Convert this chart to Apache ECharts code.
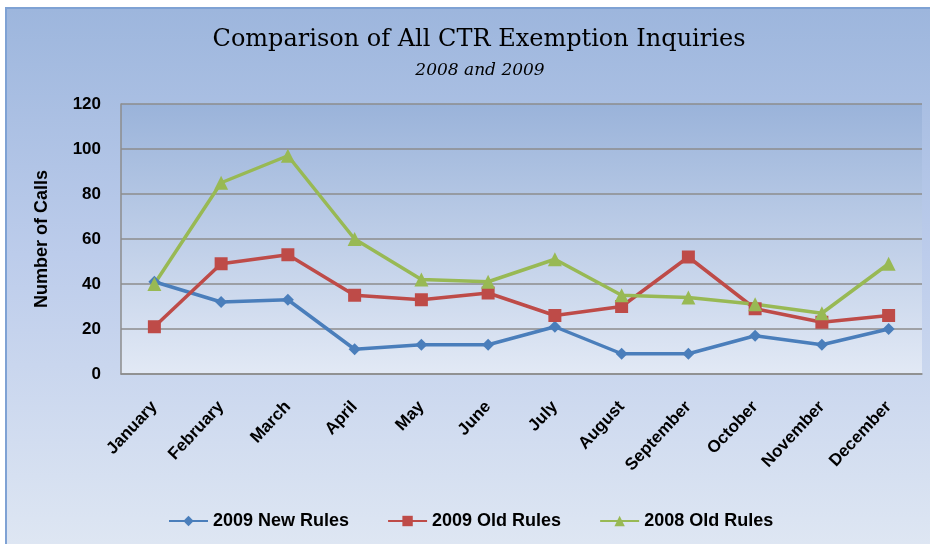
<!DOCTYPE html>
<html>
<head>
<meta charset="utf-8">
<script src="https://cdn.jsdelivr.net/npm/echarts@6/dist/echarts.min.js"></script>
<style>
  html, body { margin: 0; padding: 0; background: #fff; }
  #frame {
    position: absolute; left: 5px; top: 7px; width: 930px; height: 544px;
    border-left: 2px solid #7fa2d4; border-top: 2px solid #7fa2d4;
    background: linear-gradient(to bottom, #9db6dd 0%, #bccceb 45%, #dfe7f3 100%);
  }
  #chart { position: absolute; left: 0; top: 0; width: 930px; height: 544px; }
</style>
</head>
<body>
<div id="frame"></div>
<div id="chart"></div>
<script>
// 資料
const months = ["January", "February", "March", "April", "May", "June",
  "July", "August", "September", "October", "November", "December"];
const newRules2009 = [41, 32, 33, 11, 13, 13, 21, 9, 9, 17, 13, 20];
const oldRules2009 = [21, 49, 53, 35, 33, 36, 26, 30, 52, 29, 23, 26];
const oldRules2008 = [40, 85, 97, 60, 42, 41, 51, 35, 34, 31, 27, 49];
const yTicks = [0, 20, 40, 60, 80, 100, 120];

const chart = echarts.init(document.getElementById("chart"));

function lineSeries(name, data, color, symbol, size) {
  return {
    name: name,
    type: "line",
    data: data,
    symbol: symbol,
    symbolSize: size,
    lineStyle: { color: color, width: 3.5 },
    itemStyle: { color: color },
    z: 3
  };
}

const option = {
  animation: false,
  title: [
    {
      text: "Comparison of All CTR Exemption Inquiries",
      left: 474, top: 23, textAlign: "center",
      textStyle: { fontFamily: "DejaVu Serif", fontSize: 24, fontWeight: "normal", color: "#000" }
    },
    {
      text: "2008 and 2009",
      left: 475, top: 57, textAlign: "center",
      textStyle: { fontFamily: "DejaVu Serif", fontSize: 17, fontStyle: "italic", fontWeight: "normal", color: "#000" }
    }
  ],
  grid: {
    left: 121, right: 8, top: 104, bottom: 170,
    show: true,
    borderWidth: 0,
    backgroundColor: new echarts.graphic.LinearGradient(0, 0, 0, 1, [
      { offset: 0, color: "#9ab3da" },
      { offset: 1, color: "#e2e9f5" }
    ])
  },
  legend: {
    top: 507, left: 163,
    itemWidth: 39, itemHeight: 13, itemGap: 38,
    textStyle: { fontFamily: "Liberation Sans", fontSize: 18, fontWeight: "bold", color: "#000" },
    data: ["2009 New Rules", "2009 Old Rules", "2008 Old Rules"]
  },
  xAxis: {
    type: "category",
    data: months,
    boundaryGap: true,
    axisLine: { lineStyle: { color: "#8c8c8c", width: 1.5 } },
    axisTick: { show: false },
    axisLabel: {
      rotate: 47, interval: 0, margin: 30,
      fontFamily: "Liberation Sans", fontSize: 17, fontWeight: "bold", color: "#000"
    }
  },
  yAxis: {
    type: "value",
    min: yTicks[0], max: yTicks[yTicks.length - 1], interval: 20,
    name: "Number of Calls",
    nameLocation: "middle",
    nameGap: 70,
    nameTextStyle: { fontFamily: "Liberation Sans", fontSize: 18, fontWeight: "bold", color: "#000" },
    axisLine: { show: true, lineStyle: { color: "#8c8c8c", width: 1.5 } },
    axisTick: { show: false },
    splitLine: { lineStyle: { color: "#8c8c8c", width: 1.5 } },
    axisLabel: {
      margin: 20,
      fontFamily: "Liberation Sans", fontSize: 17, fontWeight: "bold", color: "#000"
    }
  },
  series: [
    lineSeries("2009 New Rules", newRules2009, "#4a7ebb", "diamond", 12),
    lineSeries("2009 Old Rules", oldRules2009, "#be4b48", "rect", 13),
    lineSeries("2008 Old Rules", oldRules2008, "#98b954", "triangle", 14)
  ]
};

chart.setOption(option);
</script>
</body>
</html>
